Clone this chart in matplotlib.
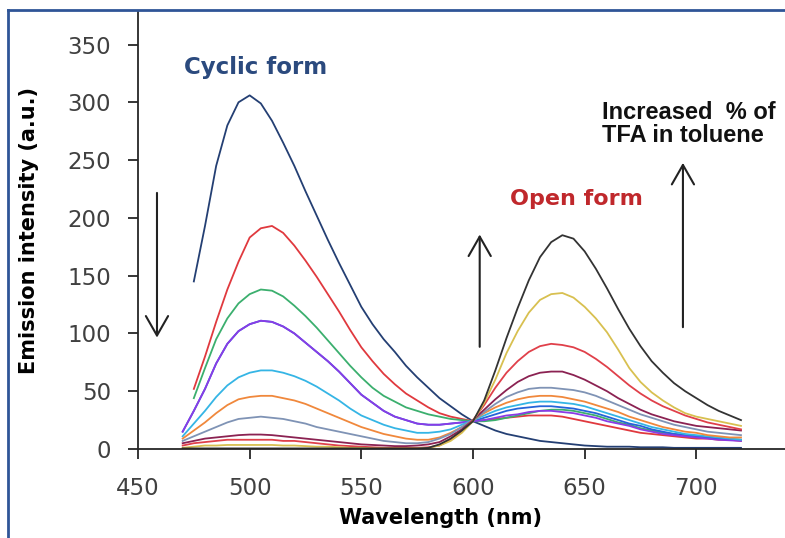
import numpy as np
import matplotlib
matplotlib.use("Agg")
import matplotlib.pyplot as plt
from matplotlib.lines import Line2D

nan = np.nan

# wavelength grid (nm), 470 -> 720 in 5 nm steps
wavelength = list(range(470, 725, 5))

# emission spectra, one per TFA fraction (a.u.)
navy = [nan, 145, 193, 245, 280, 300, 306, 299, 284, 265, 245, 223, 202, 181, 161, 142, 123,
        108, 95, 84, 72, 62, 53, 44, 37, 30, 24,
        20, 16, 13, 11, 9, 7, 6, 5, 4, 3, 2.5, 2, 2, 2, 1.5, 1.5, 1.5, 1, 1, 1, 1, 1, 1, 1]
red = [nan, 52, 80, 110, 138, 162, 183, 191, 193, 187, 176, 163, 149, 134, 119, 103, 88,
       76, 65, 56, 48, 42, 36, 31, 28, 26, 24,
       25, 26, 27, 28, 29, 29, 29, 28, 26, 24, 22, 20, 18, 16, 14, 13, 12, 11, 10, 9, 9, 8, 8, 7]
green = [nan, 44, 70, 95, 113, 126, 134, 138, 137, 132, 124, 115, 105, 94, 83, 72, 62,
         53, 46, 41, 36, 33, 30, 28, 26, 25, 24,
         24, 25, 27, 29, 31, 33, 34, 34, 33, 31, 29, 26, 23, 21, 18, 16, 14, 13, 12, 11, 10, 9, 8.5, 8]
blue = [15, 33, 52, 74, 91, 102, 108, 111, 110, 106, 100, 92, 84, 76, 67, 57, 47,
        40, 33, 28, 25, 22, 21, 21, 22, 23, 24,
        27, 30, 33, 35, 36, 37, 37, 36, 35, 33, 31, 28, 25, 22, 20, 17, 15, 13, 12, 11, 10, 9, 8, 8]
purple = [15, 33, 52, 74, 91, 102, 108, 111, 110, 106, 100, 92, 84, 76, 67, 57, 47,
          40, 33, 28, 25, 22, 21, 21, 22, 23, 24,
          25, 27, 29, 30, 32, 33, 33, 32, 31, 29, 27, 24, 22, 20, 17, 15, 13, 12, 11, 10, 9, 8, 7.5, 7]
cyan = [11, 22, 33, 45, 55, 62, 66, 68, 68, 66, 63, 59, 54, 48, 42, 35, 29,
        25, 21, 18, 16, 14, 14, 15, 17, 21, 25,
        29, 33, 36, 38, 40, 41, 41, 40, 39, 37, 34, 31, 28, 25, 22, 19, 17, 15, 13, 12, 11, 10, 9, 8]
orange = [9, 16, 23, 31, 38, 43, 45, 46, 46, 44, 42, 39, 35, 31, 27, 23, 19,
          16, 13, 11, 9, 8, 8, 10, 14, 19, 25,
          31, 36, 40, 43, 45, 46, 46, 45, 43, 41, 38, 35, 32, 28, 25, 22, 19, 17, 15, 14, 12, 11, 10, 10]
steel = [7, 11, 15, 19, 23, 26, 27, 28, 27, 26, 24, 22, 19, 17, 15, 13, 11,
         9, 7, 6, 5, 5, 6, 9, 13, 19, 25,
         32, 39, 45, 49, 52, 53, 53, 52, 51, 49, 46, 42, 38, 34, 30, 27, 24, 21, 19, 17, 15, 14, 13, 12]
maroon = [5, 7, 9, 10, 11, 12, 12.5, 12.5, 12, 11, 10, 9, 8, 7, 6, 5, 4,
          3.5, 3, 2.5, 2.5, 3, 4, 6, 11, 17, 25,
          34, 43, 51, 58, 63, 66, 67, 67, 64, 60, 55, 50, 44, 39, 34, 30, 27, 24, 22, 20, 19, 18, 17, 16]
crimson = [3, 5, 6, 7, 8, 8, 8, 8, 8, 7, 7, 6, 5, 4, 3, 2.5, 2,
           1.5, 1, 1, 1, 1, 1.5, 3, 8, 15, 25,
           38, 53, 66, 76, 84, 89, 91, 90, 88, 84, 78, 71, 63, 55, 48, 42, 37, 33, 29, 26, 23, 21, 19, 17]
gold = [1, 2, 3, 3, 3.5, 3.5, 3.5, 3.5, 3.5, 3, 3, 2.5, 2, 2, 1.5, 1, 1,
        0.5, 0.5, 0.5, 0.5, 0.5, 1, 3, 7, 14, 24,
        40, 60, 83, 102, 118, 129, 134, 135, 131, 123, 113, 101, 86, 70, 58, 49, 42, 36, 31, 28, 26, 24, 22, 20]
black = [0.5, 0.5, 0.5, 0.5, 0.5, 0.5, 0.5, 0.5, 0.5, 0.5, 0.5, 0.5, 0.5, 0.5, 0.5, 0.5, 0.5,
         0.5, 0.5, 0.5, 0.5, 0.5, 1, 4, 9, 16, 24,
         42, 68, 96, 122, 146, 166, 179, 185, 182, 171, 156, 139, 121, 104, 89, 76, 66, 57, 50, 44, 38, 33, 29, 25]

series = [
    (navy, "#243F73"), (red, "#E0393E"), (green, "#3BAF6E"), (blue, "#2563D9"),
    (purple, "#8A3BE6"), (cyan, "#35B5E5"), (orange, "#F0883C"), (steel, "#7F93B5"),
    (maroon, "#8B2252"), (crimson, "#E0404A"), (gold, "#D8C050"), (black, "#333333"),
]

fig = plt.figure(figsize=(7.85, 5.38), dpi=100)
ax = fig.add_axes([138 / 785, 89 / 538, 670 / 785, 438 / 538])

for values, color in series:
    ax.plot(wavelength, values, color=color, lw=1.3, solid_joinstyle="round")

ax.set_xlim(450, 750)
ax.set_ylim(0, 379)
ax.set_xticks(range(450, 701, 50))
ax.set_yticks(range(0, 351, 50))

for side in ("top", "right"):
    ax.spines[side].set_visible(False)
for side in ("left", "bottom"):
    ax.spines[side].set_color("#262626")
    ax.spines[side].set_linewidth(1.3)
ax.tick_params(direction="out", length=7.5, width=1.3, color="#262626",
               labelsize=16.5, labelcolor="#404040")
ax.tick_params(axis="y", pad=12)
ax.tick_params(axis="x", pad=13)

ax.set_xlabel("Wavelength (nm)", fontsize=15, fontweight="bold")
ax.xaxis.set_label_coords(0.452, -0.135)
ax.set_ylabel("Emission intensity (a.u.)", fontsize=15, fontweight="bold")
ax.yaxis.set_label_coords(-0.148, 0.498)

# annotations
ax.text(470.6, 330, "Cyclic form", color="#2B4A7E", fontsize=16.5, fontweight="bold",
        ha="left", va="center")
ax.text(616.5, 216, "Open form", color="#C0282C", fontsize=16, fontweight="bold",
        ha="left", va="center")
ax.text(657.7, 281, "Increased  % of\nTFA in toluene", color="#111111", fontsize=17,
        fontweight="bold", family="Liberation Sans", ha="left", va="center", linespacing=1.0)

arrow = dict(arrowstyle="->,head_length=1.4,head_width=0.8", lw=1.5, color="#222222")
ax.annotate("", xy=(458.5, 94), xytext=(458.5, 224), arrowprops=arrow)
ax.annotate("", xy=(603, 188), xytext=(603, 86), arrowprops=arrow)
ax.annotate("", xy=(694, 250), xytext=(694, 103), arrowprops=arrow)

# frame lines along the top and left edges
border = "#2F5597"
fig.add_artist(Line2D([8 / 785, 1], [1 - 10 / 538, 1 - 10 / 538], color=border, lw=2))
fig.add_artist(Line2D([8 / 785, 8 / 785], [0, 1 - 10 / 538], color=border, lw=2))

fig.savefig("out.png", dpi=100)
